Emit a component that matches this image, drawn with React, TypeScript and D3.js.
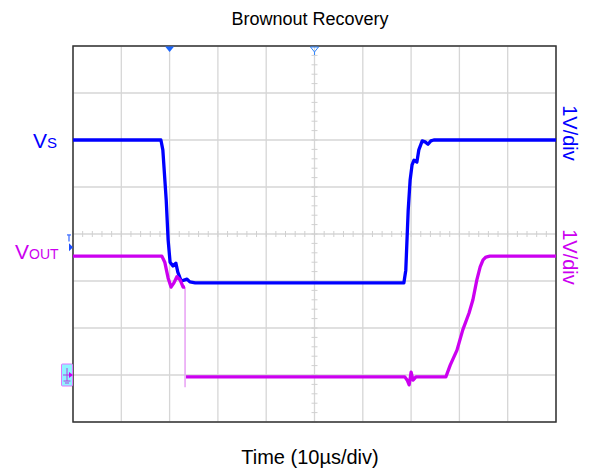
import React from "react";
import * as d3 from "d3";

// time in µs (10 µs/div), level in divisions from the bottom of the screen
const vsTime = [0, 18.2, 18.6, 19.3, 19.7, 20.1, 20.7, 21.3, 21.7, 22.4, 23.0, 23.6, 24.2, 25.3, 68.5, 68.9, 69.4, 69.8, 70.2, 70.6, 71.2, 71.6, 72.3, 72.9, 73.5, 74.1, 74.7, 100];
const vsLevel = [6.0, 6.0, 5.79, 4.72, 3.87, 3.4, 3.32, 3.38, 3.19, 3.0, 3.02, 3.04, 2.98, 2.96, 2.96, 3.23, 4.51, 5.15, 5.47, 5.57, 5.53, 5.79, 5.98, 5.96, 5.91, 5.98, 6.0, 6.0];

const voutTimeA = [0, 18.4, 19.0, 19.7, 20.3, 20.9, 21.5, 22.2, 22.8, 23.2];
const voutLevelA = [3.53, 3.53, 3.4, 3.06, 2.87, 2.96, 3.09, 3.02, 2.87, 2.87];
const voutTimeB = [23.4, 68.7, 69.2, 69.6, 70.0, 70.4, 71.0, 77.2, 78.1, 79.5, 80.7, 82.0, 82.8, 83.6, 84.3, 84.9, 85.5, 86.3, 100];
const voutLevelB = [0.96, 0.96, 0.89, 0.79, 1.06, 0.89, 0.96, 0.96, 1.21, 1.53, 1.96, 2.32, 2.6, 3.02, 3.3, 3.45, 3.51, 3.53, 3.53];
const spikeTime = [23.2, 23.2];
const spikeLevel = [2.87, 0.74];

const xTicks = d3.range(0, 101, 10);
const yTicks = d3.range(0, 9, 1);
const minorX = d3.range(0, 101, 2);
const minorY = d3.range(0, 8.01, 0.2);

const BLUE = "#0000ff";
const MAG = "#cc00f0";
const FONT = "Arial, 'Liberation Sans', sans-serif";

export default function App() {
  const W = 593, H = 474;
  const x = d3.scaleLinear().domain([0, 100]).range([73, 556]);
  const y = d3.scaleLinear().domain([0, 8]).range([422, 46]);
  const line = d3.line<[number, number]>().x((d) => x(d[0])).y((d) => y(d[1]));
  const zip = (a: number[], b: number[]) => a.map((v, i) => [v, b[i]] as [number, number]);

  const x0 = x(0), x1 = x(100), y0 = y(0), y1 = y(8);
  const xc = x(50), yc = y(4);
  const tx = x(20), tx2 = x(50);

  return (
    <svg width={W} height={H} style={{ position: "absolute", left: 0, top: 0, background: "#fff" }} fontFamily={FONT}>
      <rect width={W} height={H} fill="#fff" />
      {/* grid */}
      {xTicks.map((t) => (
        <line key={"gx" + t} x1={x(t)} x2={x(t)} y1={y1} y2={y0} stroke="#d6d6d6" strokeWidth={1.3} />
      ))}
      {yTicks.map((t) => (
        <line key={"gy" + t} x1={x0} x2={x1} y1={y(t)} y2={y(t)} stroke="#d6d6d6" strokeWidth={1.3} />
      ))}
      {minorX.map((t) => (
        <line key={"mx" + t} x1={x(t)} x2={x(t)} y1={yc - 3} y2={yc + 3} stroke="#d0d0d0" strokeWidth={1} />
      ))}
      {minorY.map((t, i) => (
        <line key={"my" + i} x1={xc - 3} x2={xc + 3} y1={y(t)} y2={y(t)} stroke="#d0d0d0" strokeWidth={1} />
      ))}
      {/* border */}
      <rect x={x0} y={y1} width={x1 - x0} height={y0 - y1} fill="none" stroke="#333" strokeWidth={1.5} />

      {/* traces */}
      <path d={line(zip(spikeTime, spikeLevel)) || ""} fill="none" stroke="#e8a0f4" strokeWidth={1.5} />
      <path d={line(zip(vsTime, vsLevel)) || ""} fill="none" stroke={BLUE} strokeWidth={3.3} strokeLinejoin="round" />
      <path d={line(zip(voutTimeA, voutLevelA)) || ""} fill="none" stroke={MAG} strokeWidth={3.3} strokeLinejoin="round" />
      <path d={line(zip(voutTimeB, voutLevelB)) || ""} fill="none" stroke={MAG} strokeWidth={3.3} strokeLinejoin="round" />

      {/* trigger markers */}
      <path d={`M${tx - 4.5},${y1 + 0.5} L${tx + 4.5},${y1 + 0.5} L${tx},${y1 + 6} Z`} fill="#1a66ff" />
      <path d={`M${tx2 - 4},${y1 + 1} L${tx2 + 4},${y1 + 1} L${tx2},${y1 + 6} Z`} fill="none" stroke="#3388ff" strokeWidth={1} />
      <line x1={tx2} x2={tx2} y1={y1 + 6} y2={y1 + 9} stroke="#3388ff" strokeWidth={1} />

      {/* left channel markers */}
      <line x1={67} x2={71} y1={y(3.98)} y2={y(3.98)} stroke="#3366ff" strokeWidth={1.2} />
      <line x1={69} x2={69} y1={y(3.98)} y2={y(3.84)} stroke="#3366ff" strokeWidth={1.2} />
      <path d={`M${69},${y(3.72) - 4} L${73},${y(3.72)} L${69},${y(3.72) + 4} Z`} fill="#1a4dff" />
      <rect x={61.5} y={y(1) - 11} width={11} height={22} fill="#8ff5ff" stroke="#dd77ff" strokeWidth={1} rx={1} />
      <path d={`M${73},${y(1)} L${69},${y(1) - 3} L${69},${y(1) + 3} Z`} fill={MAG} />
      <line x1={67} x2={67} y1={y(1) - 7} y2={y(1) + 6} stroke="#b040e0" strokeWidth={1} />
      <line x1={63.5} x2={70.5} y1={y(1) + 6} y2={y(1) + 6} stroke="#b040e0" strokeWidth={1} />
      <line x1={65} x2={69} y1={y(1) + 8} y2={y(1) + 8} stroke="#b040e0" strokeWidth={1} />
      <line x1={63} x2={69} y1={y(1)} y2={y(1)} stroke="#b040e0" strokeWidth={1} />

      {/* titles */}
      <text x={310} y={25} textAnchor="middle" fontSize={18} fill="#000">Brownout Recovery</text>
      <text x={310} y={464} textAnchor="middle" fontSize={20} fill="#000">Time (10µs/div)</text>

      {/* channel labels */}
      <text x={33} y={148} fontSize={21} fill={BLUE}>V<tspan fontSize={15}>S</tspan></text>
      <text x={15} y={259} fontSize={21} fill={MAG}>V<tspan fontSize={14}>OUT</tspan></text>
      <text transform={`translate(563,133) rotate(90)`} textAnchor="middle" fontSize={20} fill={BLUE}>1V/div</text>
      <text transform={`translate(563,257) rotate(90)`} textAnchor="middle" fontSize={20} fill={MAG}>1V/div</text>
    </svg>
  );
}
